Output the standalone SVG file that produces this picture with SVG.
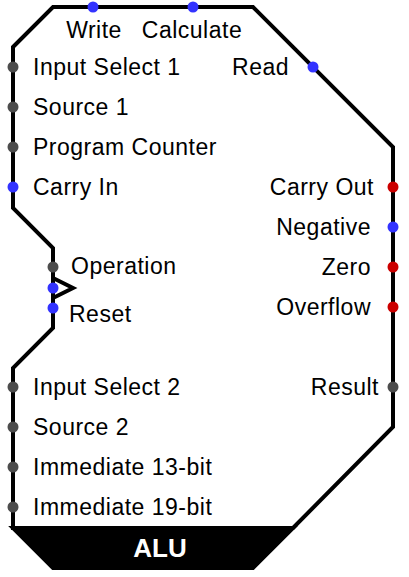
<svg xmlns="http://www.w3.org/2000/svg" width="409" height="577" viewBox="0 0 409 577">
<style>
.body{fill:#fff;stroke:#000;stroke-width:4;stroke-linejoin:miter}
.lbl{font-family:"Liberation Sans",Arial,sans-serif;font-size:23px;letter-spacing:0.5px;fill:#000}
.end{text-anchor:end}
.mid{text-anchor:middle}
.g{fill:#4d4d4d}
.b{fill:#3333ff}
.r{fill:#cc0000}
</style>
<rect width="409" height="577" fill="#fff"/>
<g id="alu">
<path class="body" d="M13,47 L53,7 L253,7 L393,147 L393,427 L293,528 L13,528 L13,368 L53,328 L53,248 L13,208 Z"/>
<polyline points="53,278 73,288 53,298" fill="none" stroke="#000" stroke-width="4"/>
<polygon points="13,528 293,528 253,568 53,568" fill="#000" stroke="#000" stroke-width="4" stroke-linejoin="miter"/>
<text x="160" y="557" text-anchor="middle" font-family="Liberation Sans,Arial,sans-serif" font-size="26" font-weight="bold" fill="#fff">ALU</text>
</g>
<g id="ports">
<g id="p-write"><circle class="b" cx="93" cy="7" r="5.5"/><text class="lbl mid" x="94" y="38">Write</text></g>
<g id="p-calc"><circle class="b" cx="193" cy="7" r="5.5"/><text class="lbl mid" x="192" y="38">Calculate</text></g>
<g id="p-read"><circle class="b" cx="313" cy="67" r="5.5"/><text class="lbl end" x="289" y="75">Read</text></g>
<g id="p-is1"><circle class="g" cx="13" cy="67" r="5.5"/><text class="lbl" x="33" y="75">Input Select 1</text></g>
<g id="p-s1"><circle class="g" cx="13" cy="107" r="5.5"/><text class="lbl" x="33" y="115">Source 1</text></g>
<g id="p-pc"><circle class="g" cx="13" cy="147" r="5.5"/><text class="lbl" x="33" y="155">Program Counter</text></g>
<g id="p-ci"><circle class="b" cx="13" cy="187" r="5.5"/><text class="lbl" x="33" y="195">Carry In</text></g>
<g id="p-op"><circle class="g" cx="53" cy="267" r="5.5"/><text class="lbl" x="71" y="274">Operation</text></g>
<g id="p-clk"><circle class="b" cx="53" cy="288" r="5.5"/></g>
<g id="p-rst"><circle class="b" cx="53" cy="308" r="5.5"/><text class="lbl" x="69" y="322">Reset</text></g>
<g id="p-is2"><circle class="g" cx="13" cy="387" r="5.5"/><text class="lbl" x="33" y="395">Input Select 2</text></g>
<g id="p-s2"><circle class="g" cx="13" cy="427" r="5.5"/><text class="lbl" x="33" y="435">Source 2</text></g>
<g id="p-i13"><circle class="g" cx="13" cy="467" r="5.5"/><text class="lbl" x="33" y="475">Immediate 13-bit</text></g>
<g id="p-i19"><circle class="g" cx="13" cy="507" r="5.5"/><text class="lbl" x="33" y="515">Immediate 19-bit</text></g>
<g id="p-co"><circle class="r" cx="393" cy="187" r="5.5"/><text class="lbl end" x="374" y="195">Carry Out</text></g>
<g id="p-neg"><circle class="b" cx="393" cy="227" r="5.5"/><text class="lbl end" x="371" y="235">Negative</text></g>
<g id="p-zero"><circle class="r" cx="393" cy="267" r="5.5"/><text class="lbl end" x="371" y="275">Zero</text></g>
<g id="p-ovf"><circle class="r" cx="393" cy="307" r="5.5"/><text class="lbl end" x="371" y="315">Overflow</text></g>
<g id="p-res"><circle class="g" cx="393" cy="387" r="5.5"/><text class="lbl end" x="379" y="395">Result</text></g>
</g>
<g id="connectors"/>
</svg>
